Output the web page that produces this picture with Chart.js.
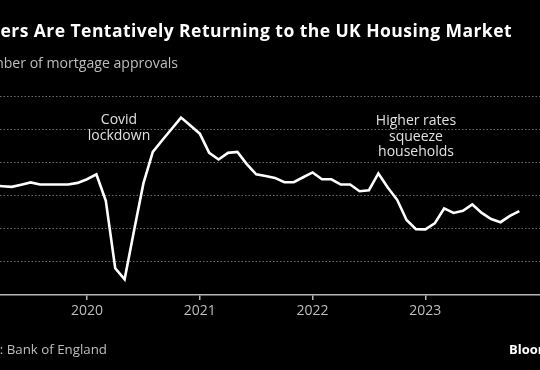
<!DOCTYPE html>
<html><head><meta charset="utf-8">
<script src="https://cdn.jsdelivr.net/npm/chart.js@4.4.1/dist/chart.umd.min.js"></script>
<style>
html,body{margin:0;padding:0;background:#000;width:540px;height:370px;overflow:hidden;}
#wrap{position:relative;width:540px;height:370px;overflow:hidden;font-family:"Open Sans",sans-serif;}
canvas{position:absolute;left:0;top:0;}
.t{position:absolute;white-space:nowrap;line-height:1;}
.ann{position:absolute;white-space:nowrap;text-align:center;transform:translateX(-50%);font-size:14px;line-height:15.6px;color:#e0e0e0;}
</style></head><body>
<div id="wrap">
<canvas id="c" width="540" height="370"></canvas>
<div class="t" style="right:28px;top:22px;font-size:17.5px;letter-spacing:0.45px;font-weight:700;color:#fff;">Buyers Are Tentatively Returning to the UK Housing Market</div>
<div class="t" style="right:362px;top:56px;font-size:14.1px;color:#bdbdbd;">Number of mortgage approvals</div>
<div class="ann" style="left:119px;top:111px;">Covid<br>lockdown</div>
<div class="ann" style="left:416px;top:112px;">Higher rates<br>squeeze<br>households</div>
<div class="t" style="right:433px;top:343px;font-size:13.3px;color:#bdbdbd;">Source: Bank of England</div>
<div class="t" style="left:509px;top:343px;font-size:13px;font-weight:700;color:#fff;">Bloomberg</div>
</div>
<script>
const months = ["2019-03","2019-04","2019-05","2019-06","2019-07","2019-08","2019-09","2019-10","2019-11","2019-12",
"2020-01","2020-02","2020-03","2020-04","2020-05","2020-06","2020-07","2020-08","2020-09","2020-10","2020-11","2020-12",
"2021-01","2021-02","2021-03","2021-04","2021-05","2021-06","2021-07","2021-08","2021-09","2021-10","2021-11","2021-12",
"2022-01","2022-02","2022-03","2022-04","2022-05","2022-06","2022-07","2022-08","2022-09","2022-10","2022-11","2022-12",
"2023-01","2023-02","2023-03","2023-04","2023-05","2023-06","2023-07","2023-08","2023-09","2023-10","2023-11"];
const approvalsThousands = [66.0,65.6,65.2,66.5,67.9,66.6,66.6,66.6,66.6,67.6,
69.8,72.7,56.8,16.1,9.5,38.7,67.3,86.3,93.3,100.1,107.0,102.2,
97.3,85.7,81.7,85.7,86.3,78.9,72.8,71.8,70.6,68.0,68.0,71.0,
73.9,69.8,69.8,66.6,66.6,62.6,63.2,73.3,64.8,57.4,45.2,39.7,
39.6,43.2,52.2,49.5,50.8,54.6,49.5,45.8,43.9,47.7,50.6];
const yearTicks = ["2020","2021","2022","2023"];
const yGridValues = [0,20,40,60,80,100,120];

const baseYear = 2020;
function monthIndex(s){const [y,m]=s.split("-").map(Number);return (y-baseYear)*12+(m-1);}
const points = months.map((m,i)=>({x:monthIndex(m), y:approvalsThousands[i]}));
const tickVals = yearTicks.map(y=>(Number(y)-baseYear)*12);

new Chart(document.getElementById('c'), {
  type:'line',
  data:{datasets:[{data:points, borderColor:'#ffffff', borderWidth:2.6, pointRadius:0, tension:0, fill:false}]},
  options:{
    responsive:false, animation:false,
    layout:{padding:{top:96,bottom:0,left:0,right:0}},
    plugins:{legend:{display:false}, tooltip:{enabled:false}},
    scales:{
      x:{type:'linear', min:-9.26, max:48.2,
        afterBuildTicks:s=>{s.ticks=tickVals.map(v=>({value:v}));},
        afterFit:s=>{s.height=75;},
        grid:{drawOnChartArea:false, drawTicks:true, tickLength:5, color:'#b5b5b5', lineWidth:1.5},
        border:{display:true, color:'#b5b5b5', width:1.5},
        ticks:{padding:3, color:'#bdbdbd', font:{family:'"Open Sans"', size:14},
          callback:(v)=>{const i=tickVals.indexOf(v);return i>=0?yearTicks[i]:'';}, maxRotation:0, autoSkip:false}
      },
      y:{min:0, max:120,
        afterBuildTicks:s=>{s.ticks=yGridValues.map(v=>({value:v}));},
        afterFit:s=>{s.width=0;},
        ticks:{display:false},
        grid:{drawTicks:false, color:(c)=>c.tick && c.tick.value===0?'rgba(0,0,0,0)':'#6e6e6e', lineWidth:1},
        border:{display:false, dash:[1.5,2]}
      }
    }
  }
});
</script>
</body></html>
